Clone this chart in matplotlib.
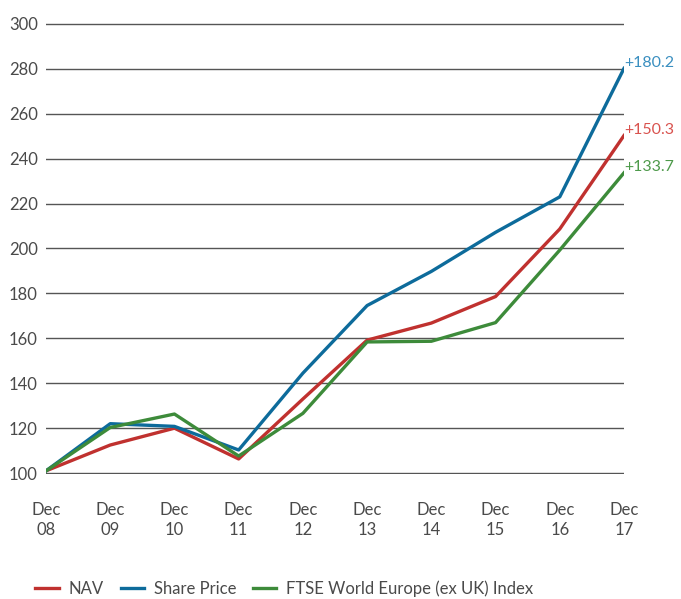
import matplotlib.pyplot as plt

years = ['08', '09', '10', '11', '12', '13', '14', '15', '16', '17']
nav = [101, 112.5, 120, 106.3, 133, 159.2, 166.8, 178.6, 208.7, 250.3]
share_price = [101, 122, 120.8, 110.3, 144.5, 174.6, 189.8, 207.2, 223, 280.2]
ftse = [101, 120.3, 126.3, 107.6, 126.6, 158.4, 158.7, 167, 199.3, 233.7]
end_labels = ['+150.3', '+180.2', '+133.7']

plt.rcParams['font.family'] = ['Lato', 'DejaVu Sans']

red = '#c0312f'
blue = '#0d6b9b'
green = '#3d8b3a'

fig = plt.figure(figsize=(6.81, 5.99), dpi=100)
ax = fig.add_axes([46/681, 1 - 474/599, (624 - 46)/681, (474 - 23)/599])

x = list(range(len(years)))
ax.plot(x, nav, color=red, lw=2.4, label='NAV', zorder=3)
ax.plot(x, share_price, color=blue, lw=2.4, label='Share Price', zorder=3)
ax.plot(x, ftse, color=green, lw=2.4, label='FTSE World Europe (ex UK) Index', zorder=3)

# value labels at the end of each line
for vals, txt, c in [(share_price, end_labels[1], '#3a8fc0'),
                     (nav, end_labels[0], '#d9534f'),
                     (ftse, end_labels[2], '#4e9a4b')]:
    ax.text(x[-1] + 0.01, vals[-1] + 2.4, txt, color=c, fontsize=11.5,
            ha='left', va='center')

ax.set_xlim(0, 9)
ax.set_ylim(99.6, 300.4)
ax.set_yticks(range(100, 301, 20))
ax.set_xticks(x)
ax.set_xticklabels(['Dec\n' + y for y in years], linespacing=1.3)
ax.tick_params(axis='both', length=0, labelsize=12, colors='#4a4a4a')
ax.tick_params(axis='x', pad=20)
ax.tick_params(axis='y', pad=6)
ax.grid(axis='y', color='#555555', lw=1)
ax.set_axisbelow(True)
for s in ax.spines.values():
    s.set_visible(False)

fig.legend(loc='lower left', bbox_to_anchor=(0.03, -0.022), ncol=3, frameon=False,
           fontsize=12, handlelength=1.4, handletextpad=0.6, columnspacing=1.0,
           labelcolor='#4a4a4a')

fig.savefig('out.png', dpi=100)
